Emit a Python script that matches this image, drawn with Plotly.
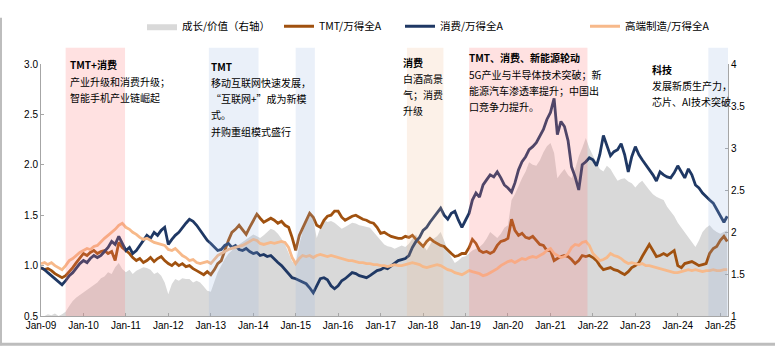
import plotly.graph_objects as go
import pandas as pd

# ---------------- data (monthly, Jan-2009 .. Mar-2025) ----------------
growth_value = [  # right axis
    1.00, 1.00, 1.02, 1.01, 1.03, 1.00, 1.02, 1.05, 1.12, 1.18, 1.22, 1.25,
    1.29, 1.32, 1.35, 1.37, 1.40, 1.45, 1.47, 1.52, 1.50, 1.58, 1.63, 1.56,
    1.52, 1.55, 1.50, 1.54, 1.56, 1.58, 1.57, 1.55, 1.50, 1.52, 1.48, 1.40,
    1.26, 1.38, 1.44, 1.42, 1.45, 1.44, 1.44, 1.40, 1.42, 1.40, 1.35, 1.30,
    1.29, 1.40, 1.52, 1.60, 1.68, 1.74, 1.78, 1.82, 1.85, 1.88, 1.92, 1.95,
    1.97, 1.95, 1.93, 1.96, 2.00, 2.04, 2.02, 1.98, 1.92, 1.85, 1.75, 1.65,
    1.63, 1.85, 2.00, 2.11, 2.22, 2.15, 1.93, 2.05, 2.15, 2.12, 2.13, 2.11,
    2.08, 2.04, 2.06, 2.09, 2.11, 2.10, 2.08, 2.07, 2.06, 2.05, 2.00, 1.95,
    1.89, 1.85, 1.83, 1.82, 1.80, 1.82, 1.84, 1.82, 1.86, 1.92, 1.97, 1.90,
    1.85, 1.78, 1.85, 1.92, 1.95, 2.00, 1.90, 1.78, 1.70, 1.63, 1.66, 1.70,
    1.71, 1.75, 1.78, 1.80, 1.82, 1.86, 1.92, 2.00, 1.96, 1.93, 1.98, 2.05,
    2.08, 2.38, 2.45, 2.55, 2.64, 2.72, 2.83, 2.80, 2.79, 2.85, 2.95, 3.02,
    3.06, 2.94, 2.64, 2.70, 2.75, 2.68, 2.64, 2.75, 2.90, 3.00, 3.12, 3.00,
    2.90, 2.82, 2.75, 2.72, 2.79, 2.75, 2.68, 2.61, 2.63, 2.64, 2.60, 2.58,
    2.53, 2.58, 2.61, 2.55, 2.50, 2.45, 2.42, 2.40, 2.38, 2.30, 2.25, 2.19,
    2.11, 2.05, 2.00, 1.93, 1.88, 1.82, 1.90, 2.00, 2.05, 2.08, 2.03, 2.00,
    1.98, 2.00, 2.02,
]
tmt = [
    0.98, 0.96, 0.97, 0.95, 0.92, 0.90, 0.88, 0.90, 0.94, 0.98, 1.03, 1.08,
    1.12, 1.10, 1.13, 1.15, 1.12, 1.14, 1.15, 1.12, 1.14, 1.05, 1.23, 1.18,
    1.15, 1.12, 1.08, 1.05, 1.07, 1.03, 1.05, 1.08, 1.04, 1.07, 1.09, 1.05,
    1.02, 1.00, 1.03, 1.00, 1.02, 0.99, 1.00, 0.97, 0.95, 0.93, 0.91, 0.94,
    0.91, 0.96, 1.02, 1.05, 1.15, 1.25, 1.33, 1.36, 1.40, 1.35, 1.31, 1.38,
    1.45, 1.51, 1.47, 1.43, 1.45, 1.47, 1.45, 1.42, 1.44, 1.40, 1.38, 1.28,
    1.15, 1.30, 1.37, 1.45, 1.52, 1.48, 1.40, 1.38, 1.45, 1.49, 1.50, 1.54,
    1.54, 1.48, 1.45, 1.47, 1.49, 1.50, 1.48, 1.46, 1.45, 1.43, 1.42, 1.38,
    1.32, 1.33, 1.31, 1.29, 1.28, 1.27, 1.27, 1.29, 1.28, 1.30, 1.26, 1.22,
    1.19, 1.24, 1.27, 1.24, 1.22, 1.20, 1.19, 1.15, 1.12, 1.09, 1.10, 1.12,
    1.12, 1.18, 1.26, 1.22, 1.15, 1.13, 1.14, 1.12, 1.14, 1.20, 1.24, 1.25,
    1.27, 1.46, 1.35, 1.30, 1.32, 1.28, 1.27, 1.29, 1.25, 1.21, 1.20, 1.15,
    1.15, 1.05, 1.07, 1.09, 1.10, 1.09, 1.06, 1.02, 1.05, 1.10, 1.09, 1.10,
    1.08, 1.05, 1.00, 0.96, 0.97, 0.98, 0.96, 0.95, 0.93, 0.91, 0.94, 0.98,
    1.00, 1.03, 1.09, 1.15, 1.21, 1.15, 1.09, 1.10, 1.12, 1.10, 1.13, 1.15,
    1.00, 0.98, 1.02, 1.03, 1.04, 1.02, 1.00, 1.01, 1.02, 1.12, 1.17, 1.19,
    1.25, 1.29, 1.24,
]
consumer = [
    0.98, 0.96, 0.93, 0.90, 0.87, 0.84, 0.81, 0.85, 0.90, 0.93, 0.98, 1.02,
    1.05, 1.03, 1.07, 1.10, 1.08, 1.10, 1.14, 1.18, 1.24, 1.21, 1.29, 1.22,
    1.15, 1.18, 1.12, 1.15, 1.20, 1.25, 1.30, 1.27, 1.33, 1.30, 1.35, 1.38,
    1.21, 1.26, 1.30, 1.33, 1.38, 1.42, 1.46, 1.44, 1.40, 1.35, 1.30, 1.25,
    1.22, 1.18, 1.15, 1.16, 1.20, 1.22, 1.18, 1.20, 1.16, 1.15, 1.17, 1.14,
    1.12, 1.13, 1.10, 1.11, 1.09, 1.10, 1.06, 1.03, 1.00, 0.96, 0.92, 0.88,
    0.87, 0.85, 0.84, 0.82, 0.78, 0.73, 0.80, 0.87, 0.88, 0.86, 0.80, 0.77,
    0.80, 0.85, 0.87, 0.90, 0.93, 0.92, 0.90, 0.89, 0.88, 0.90, 0.93, 0.95,
    0.96, 0.98, 0.97, 1.00, 1.02, 1.05, 1.06, 1.07, 1.10, 1.18, 1.24, 1.28,
    1.35, 1.38, 1.43, 1.48, 1.52, 1.57, 1.50, 1.46, 1.52, 1.54, 1.45, 1.38,
    1.45, 1.52, 1.65, 1.72, 1.68, 1.80, 1.85, 1.90, 1.88, 1.93, 1.87, 1.80,
    1.77, 1.73, 1.82, 1.95, 2.03, 2.08, 2.15, 2.18, 2.22, 2.28, 2.35, 2.45,
    2.52, 2.66, 2.30, 2.43, 2.38, 2.24, 1.98, 1.88, 1.75, 2.00, 2.03, 2.07,
    2.05, 1.99, 2.10, 2.29, 2.20, 2.09, 2.13, 2.15, 2.21, 2.10, 1.93, 2.08,
    2.18, 2.10, 2.05, 2.00, 1.96, 1.90, 1.84, 1.93, 1.90, 1.88, 1.87, 1.92,
    1.99, 1.93, 1.87, 1.96, 1.90, 1.80, 1.77, 1.72, 1.68, 1.65, 1.62, 1.56,
    1.50, 1.43, 1.49,
]
high_end_mfg = [
    1.02, 1.03, 1.01, 1.03, 1.00, 0.98, 0.96, 1.00, 1.05, 1.07, 1.10, 1.13,
    1.15, 1.17, 1.16, 1.19, 1.20, 1.24, 1.27, 1.30, 1.33, 1.36, 1.40, 1.42,
    1.38, 1.36, 1.33, 1.31, 1.28, 1.26, 1.27, 1.25, 1.23, 1.22, 1.21, 1.20,
    1.16, 1.15, 1.17, 1.13, 1.10, 1.08, 1.05, 1.06, 1.03, 1.02, 1.03, 1.04,
    1.02, 1.06, 1.10, 1.12, 1.14, 1.16, 1.17, 1.18, 1.19, 1.20, 1.22, 1.24,
    1.26, 1.25, 1.22, 1.21, 1.22, 1.23, 1.22, 1.23, 1.24, 1.23, 1.18, 1.08,
    1.02, 1.07, 1.10, 1.09, 1.10, 1.08, 1.10, 1.11, 1.10, 1.09, 1.10, 1.09,
    1.08, 1.07, 1.06, 1.05, 1.05, 1.04, 1.03, 1.03, 1.02, 1.02, 1.01, 1.01,
    1.00, 1.00, 0.99, 1.00, 1.01, 1.00, 1.00, 1.01, 1.02, 1.03, 1.02, 1.01,
    0.99, 0.98, 0.99, 1.00, 1.01, 1.00, 0.98, 0.96, 0.95, 0.93, 0.92, 0.91,
    0.93, 0.95, 0.94, 0.93, 0.92, 0.90, 0.91, 0.93, 0.95, 0.97, 1.00, 1.02,
    1.04, 1.05, 1.03, 1.05, 1.07, 1.06, 1.08, 1.09, 1.08, 1.10, 1.12, 1.15,
    1.17, 1.12, 1.10, 1.08, 1.09, 1.12, 1.18, 1.21, 1.20, 1.23, 1.24, 1.20,
    1.12, 1.08, 1.05, 1.06, 1.08, 1.12, 1.10, 1.09, 1.07, 1.04, 1.02, 1.03,
    1.02, 1.01, 1.02, 1.00, 1.00, 0.99, 0.98, 0.97, 0.96, 0.95, 0.94, 0.93,
    0.93, 0.94, 0.95, 0.96, 0.95, 0.96, 0.95, 0.94, 0.95, 0.95, 0.96, 0.95,
    0.95, 0.96, 0.96,
]
dates = pd.date_range("2009-01-01", periods=len(tmt), freq="MS")

series_names = ["成长/价值（右轴）", "TMT/万得全A", "消费/万得全A", "高端制造/万得全A"]
left_ticks = [0.5, 1.0, 1.5, 2.0, 2.5, 3.0]
right_ticks = [1, 1.5, 2, 2.5, 3, 3.5, 4]

# highlighted periods: (start, end, kind)
periods = [
    ("2009-08-01", "2010-12-25", "pink"),
    ("2012-12-15", "2014-02-15", "blue"),
    ("2015-01-01", "2015-06-15", "blue"),
    ("2017-08-15", "2018-06-25", "peach"),
    ("2019-02-01", "2021-11-15", "pink"),
    ("2024-09-20", "2025-03-08", "blue"),
]
notes = [
    (68, [("<b>TMT+消费</b>", 49), ("产业升级和消费升级；", 68), ("智能手机产业链崛起", 85)]),
    (209, [("<b>TMT</b>", 52), ("移动互联网快速发展，", 69), ("“互联网+”成为新模", 86),
           ("式。", 102), ("并购重组模式盛行", 121)]),
    (401, [("<b>消费</b>", 47), ("白酒高景", 64), ("气；消费", 81), ("升级", 98)]),
    (467, [("<b>TMT、消费、新能源轮动</b>", 42), ("5G产业与半导体技术突破；新", 60),
           ("能源汽车渗透率提升；中国出", 77), ("口竞争力提升。", 94)]),
    (650, [("<b>科技</b>", 55), ("发展新质生产力，", 72), ("芯片、AI技术突破", 89)]),
]

# ---------------- layout geometry ----------------
W, H = 775, 350
L, R, T, B = 41, 728, 49, 316
def px(x):
    return (x - L) / (R - L)
def py(y):
    return (B - y) / (B - T)

band_colors = {"pink": "rgba(255,120,120,0.22)",
               "blue": "rgba(150,180,225,0.20)",
               "peach": "rgba(240,185,140,0.20)"}

colors = ["#d9d9d9", "#a0510f", "#1f3864", "#f7b98a"]
FONT = "Noto Sans CJK SC"

fig = go.Figure()
# area on base axis (right side), lines on overlaying axis (left side) so they draw on top
fig.add_trace(go.Scatter(x=dates, y=growth_value, name=series_names[0], yaxis="y",
                         mode="lines", fill="tozeroy", fillcolor=colors[0],
                         line=dict(width=0, color=colors[0]), legend="legend"))
fig.add_trace(go.Scatter(x=dates, y=tmt, name=series_names[1], mode="lines", yaxis="y2",
                         line=dict(width=2.8, color=colors[1]), legend="legend2"))
fig.add_trace(go.Scatter(x=dates, y=consumer, name=series_names[2], mode="lines", yaxis="y2",
                         line=dict(width=2.8, color=colors[2]), legend="legend3"))
fig.add_trace(go.Scatter(x=dates, y=high_end_mfg, name=series_names[3], mode="lines", yaxis="y2",
                         line=dict(width=2.8, color=colors[3]), legend="legend4"))

shapes = []
for s, e, k in periods:
    shapes.append(dict(type="rect", xref="x", yref="paper", x0=s, x1=e, y0=0, y1=1.064,
                       fillcolor=band_colors[k], line=dict(width=0), layer="above"))
# outer frame lines (left and bottom)
shapes.append(dict(type="line", xref="paper", yref="paper", x0=px(1), x1=px(1),
                   y0=py(0), y1=py(347), line=dict(color="#bdbdbd", width=2)))
shapes.append(dict(type="line", xref="paper", yref="paper", x0=px(0), x1=px(775),
                   y0=py(346), y1=py(346), line=dict(color="#bdbdbd", width=3)))

annotations = []
for x0, lines in notes:
    for txt, y in lines:
        annotations.append(dict(xref="paper", yref="paper", x=px(x0), y=py(y),
                                text=txt, showarrow=False, xanchor="left",
                                yanchor="middle", align="left",
                                font=dict(family=FONT, size=10, color="#000000")))

leg_common = dict(orientation="h", yanchor="middle", xanchor="left", y=py(9),
                  bgcolor="rgba(0,0,0,0)", font=dict(family=FONT, size=10.5, color="#000"),
                  itemwidth=30)
axis_font = dict(family="Liberation Sans", size=10, color="#000")

fig.update_layout(
    width=W, height=H,
    margin=dict(l=L, r=W - R, t=T, b=H - B),
    paper_bgcolor="white", plot_bgcolor="white",
    shapes=shapes, annotations=annotations,
    legend=dict(x=px(142), **leg_common),
    legend2=dict(x=px(279), **leg_common),
    legend3=dict(x=px(400), **leg_common),
    legend4=dict(x=px(585), **leg_common),
    xaxis=dict(type="date", range=["2009-01-01", "2025-03-08"],
               tick0="2009-01-01", dtick="M12", tickformat="%b-%y",
               showgrid=False, zeroline=False, showline=True, linecolor="#a6a6a6",
               linewidth=1, ticks="inside", ticklen=3, tickcolor="#a6a6a6",
               tickfont=axis_font),
    yaxis=dict(range=[1, 4], tickvals=right_ticks, side="right",
               showgrid=False, zeroline=False, showline=True, linecolor="#a6a6a6",
               ticks="inside", ticklen=3, tickcolor="#a6a6a6", tickfont=axis_font),
    yaxis2=dict(range=[0.5, 3.0], tickvals=left_ticks, tickformat=".1f",
                overlaying="y", side="left",
                showgrid=False, zeroline=False, showline=True, linecolor="#a6a6a6",
                ticks="inside", ticklen=3, tickcolor="#a6a6a6", tickfont=axis_font),
    showlegend=True,
)

fig.write_html("out.html")
